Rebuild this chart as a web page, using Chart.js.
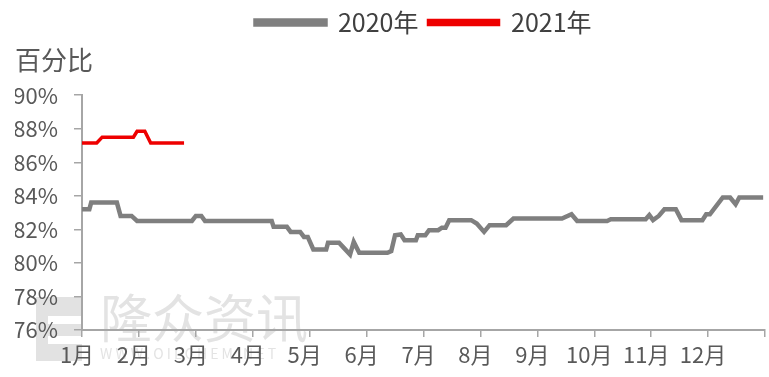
<!DOCTYPE html>
<html><head><meta charset="utf-8">
<script src="https://cdn.jsdelivr.net/npm/chart.js@4/dist/chart.umd.min.js"></script>
<style>html,body{margin:0;padding:0;background:#fff}</style>
</head><body>
<canvas id="c" width="769" height="377"></canvas>
<script>
// ---- data ----
const monthLabels = ['1月','2月','3月','4月','5月','6月','7月','8月','9月','10月','11月','12月'];
const seriesNames = ['2020年','2021年'];
const yTitle = '百分比';
const yMin = 76, yMax = 90, yStep = 2;
const dates2020 = ['1-1','1-5','1-6','1-20','1-22','1-28','1-31','2-28','3-1','3-4','3-6','4-11','4-12','4-19','4-21','4-26','4-28','4-30','5-3','5-10','5-11','5-17','5-20','5-23','5-25','5-28','6-12','6-14','6-16','6-19','6-21','6-27','6-28','7-2','7-4','7-9','7-11','7-13','7-15','7-27','7-30','8-3','8-6','8-15','8-19','9-14','9-19','9-22','10-8','10-10','10-29','10-31','11-2','11-5','11-8','11-14','11-17','11-28','11-30','12-2','12-9','12-13','12-16','12-18','12-31'];
const values2020 = [83.2,83.2,83.6,83.6,82.8,82.8,82.5,82.5,82.8,82.8,82.5,82.5,82.15,82.15,81.85,81.85,81.55,81.55,80.8,80.8,81.2,81.2,80.85,80.5,81.25,80.6,80.6,80.7,81.65,81.7,81.35,81.35,81.65,81.65,81.95,81.95,82.1,82.1,82.55,82.55,82.35,81.85,82.25,82.25,82.65,82.65,82.9,82.5,82.5,82.6,82.6,82.85,82.55,82.8,83.2,83.2,82.55,82.55,82.9,82.9,83.9,83.9,83.5,83.9,83.9];
const dates2021 = ['1-1','1-9','1-12','1-29','1-31','2-4','2-7','2-24'];
const values2021 = [87.15,87.15,87.5,87.5,87.85,87.85,87.15,87.15];
const watermarkText = '隆众资讯';
const watermarkSub = 'WWW.OILCHEM.NET';

// ---- helpers ----
const daysInMonth = [31,29,31,30,31,30,31,31,30,31,30,31];
function monthPos(s){ const [m,d] = s.split('-').map(Number); return (m-1) + (d-1)/daysInMonth[m-1]; }
function toPoints(dates, vals){ return dates.map((d,i)=>({x: monthPos(d), y: vals[i]})); }

const FONT = "'Noto Sans CJK SC', 'Noto Sans', sans-serif";
const TEXT = '#595959';
const AXIS = '#a6a6a6';

const watermarkPlugin = {
  id: 'wm',
  beforeDraw(chart){
    const ctx = chart.ctx;
    ctx.save();
    // logo block
    ctx.fillStyle = 'rgba(190,190,190,0.45)';
    ctx.fillRect(36, 297, 46, 64);
    ctx.fillStyle = '#ffffff';
    ctx.fillRect(48, 316, 34, 8);
    ctx.fillRect(48, 336, 34, 8);
    // text
    ctx.fillStyle = 'rgba(200,200,200,0.5)';
    ctx.font = "52px " + FONT;
    ctx.textBaseline = 'middle';
    ctx.textAlign = 'left';
    ctx.fillText(watermarkText, 100, 318);
    ctx.font = "14px " + FONT;
    ctx.fillText(watermarkSub.split('').join(' '), 100, 354);
    ctx.restore();
  }
};

new Chart(document.getElementById('c'), {
  type: 'line',
  data: {
    datasets: [
      { label: seriesNames[0], data: toPoints(dates2020, values2020), borderColor: '#7f7f7f', backgroundColor: '#7f7f7f', borderWidth: 4.5, pointRadius: 0, tension: 0 },
      { label: seriesNames[1], data: toPoints(dates2021, values2021), borderColor: '#ee0000', backgroundColor: '#ee0000', borderWidth: 3.5, pointRadius: 0, tension: 0 }
    ]
  },
  plugins: [watermarkPlugin],
  options: {
    responsive: false,
    animation: false,
    devicePixelRatio: 1,
    layout: { padding: { left: 15, right: 1, top: 0, bottom: 0 } },
    plugins: {
      legend: {
        position: 'top', fullSize: false, align: 'center',
        labels: { boxWidth: 70, boxHeight: 4, padding: 10, color: '#404040', font: { family: FONT, size: 25 } }
      },
      title: {
        display: true, text: yTitle, align: 'start', weight: 500, color: TEXT,
        font: { family: FONT, size: 26, weight: 'normal' }, padding: { top: 0, bottom: 19 }
      },
      tooltip: { enabled: false }
    },
    scales: {
      x: {
        type: 'linear', min: 0, max: 12,
        afterBuildTicks(scale){ scale.ticks = Array.from({length: monthLabels.length + 1}, (_, i) => ({ value: i })); },
        afterFit(scale){ scale.height = 47; },
        ticks: { autoSkip: false, maxRotation: 0, padding: 4, labelOffset: -5, color: TEXT, font: { family: FONT, size: 22 },
          callback: (v) => monthLabels[v] ?? '' },
        grid: { drawOnChartArea: false, drawTicks: true, tickLength: 7, color: AXIS, lineWidth: 1.5 },
        border: { color: AXIS, width: 2 }
      },
      y: {
        min: yMin, max: yMax,
        ticks: { stepSize: yStep, padding: 16, color: TEXT, font: { family: FONT, size: 22 }, callback: (v) => v + '%' },
        afterFit(scale){ scale.width = 67; },
        grid: { drawOnChartArea: false, drawTicks: true, tickLength: 8, color: AXIS, lineWidth: 1.5 },
        border: { color: AXIS, width: 2 }
      }
    }
  }
});
</script>
</body></html>
